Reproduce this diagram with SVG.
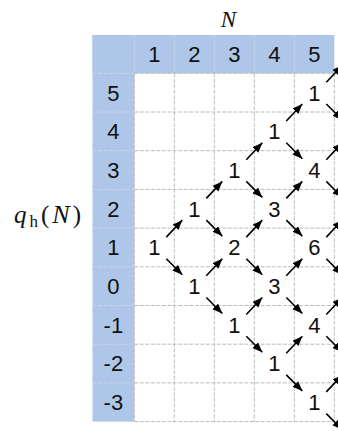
<svg xmlns="http://www.w3.org/2000/svg" width="338" height="431" viewBox="0 0 338 431">
<style>
.hdr{fill:#aec6e7}
.grid{stroke:#bcbcbc;stroke-width:1;stroke-dasharray:4 1.5;fill:none}
.gridb{stroke:#c9d6ea;stroke-width:1;stroke-dasharray:4 1.5;fill:none}
.num{font-family:"Liberation Sans",Arial,sans-serif;font-size:22px;fill:#111;text-anchor:middle}
.math{font-family:"Liberation Serif","Times New Roman",serif;fill:#111}
.arr{stroke:#000;stroke-width:1.6;fill:none;marker-end:url(#ah)}
</style>
<defs>
<marker id="ah" markerUnits="userSpaceOnUse" markerWidth="11" markerHeight="9" refX="10" refY="4" orient="auto">
<path d="M0,0 L10,4 L0,8 Z" fill="#000"/>
</marker>
</defs>
<rect width="338" height="431" fill="#fff"/>
<!-- header backgrounds -->
<rect class="hdr" x="92.5" y="35" width="241.8" height="38.3"/>
<rect class="hdr" x="92.5" y="35" width="41.8" height="386.6"/>
<!-- grid -->
<g id="grid">
<path class="gridb" d="M134.3,35V73.3 M174.3,35V73.3 M214.3,35V73.3 M254.3,35V73.3 M294.3,35V73.3 M92.5,73.3H134.3 M92.5,112H134.3 M92.5,150.7H134.3 M92.5,189.4H134.3 M92.5,228.1H134.3 M92.5,266.8H134.3 M92.5,305.5H134.3 M92.5,344.2H134.3 M92.5,382.9H134.3"/>
<path class="grid" d="M134.3,73.3H334.3 M134.3,112H334.3 M134.3,150.7H334.3 M134.3,189.4H334.3 M134.3,228.1H334.3 M134.3,266.8H334.3 M134.3,305.5H334.3 M134.3,344.2H334.3 M134.3,382.9H334.3 M134.3,421.6H334.3 M174.3,73.3V421.6 M214.3,73.3V421.6 M254.3,73.3V421.6 M294.3,73.3V421.6 M334.3,73.3V421.6 M134.3,73.3V421.6"/>
</g>
<!-- axis labels -->
<text id="labelN" class="math" x="228.5" y="27" font-size="23" font-style="italic" text-anchor="middle">N</text>
<text id="labelQ" class="math" x="14" y="223" font-size="25" textLength="67" lengthAdjust="spacing"><tspan font-style="italic">q</tspan><tspan font-size="17" dy="4">h</tspan><tspan dy="-4">(</tspan><tspan font-style="italic" font-size="26">N</tspan><tspan>)</tspan></text>
<!-- column headers -->
<g id="colheaders">
<text class="num" x="154.3" y="62">1</text>
<text class="num" x="194.3" y="62">2</text>
<text class="num" x="234.3" y="62">3</text>
<text class="num" x="274.3" y="62">4</text>
<text class="num" x="314.3" y="62">5</text>
</g>
<!-- row headers -->
<g id="rowheaders">
<text class="num" x="113.4" y="100.5">5</text>
<text class="num" x="113.4" y="139.2">4</text>
<text class="num" x="113.4" y="177.9">3</text>
<text class="num" x="113.4" y="216.6">2</text>
<text class="num" x="113.4" y="255.3">1</text>
<text class="num" x="113.4" y="294">0</text>
<text class="num" x="113.4" y="332.7">-1</text>
<text class="num" x="113.4" y="371.4">-2</text>
<text class="num" x="113.4" y="410.1">-3</text>
</g>
<!-- nodes -->
<g id="n1_1"><text class="num" x="154.3" y="255.3">1</text></g>
<g id="n2_2"><text class="num" x="194.3" y="216.6">1</text></g>
<g id="n2_0"><text class="num" x="194.3" y="294">1</text></g>
<g id="n3_3"><text class="num" x="234.3" y="177.9">1</text></g>
<g id="n3_1"><text class="num" x="234.3" y="255.3">2</text></g>
<g id="n3_m1"><text class="num" x="234.3" y="332.7">1</text></g>
<g id="n4_4"><text class="num" x="274.3" y="139.2">1</text></g>
<g id="n4_2"><text class="num" x="274.3" y="216.6">3</text></g>
<g id="n4_0"><text class="num" x="274.3" y="294">3</text></g>
<g id="n4_m2"><text class="num" x="274.3" y="371.4">1</text></g>
<g id="n5_5"><text class="num" x="314.3" y="100.5">1</text></g>
<g id="n5_3"><text class="num" x="314.3" y="177.9">4</text></g>
<g id="n5_1"><text class="num" x="314.3" y="255.3">6</text></g>
<g id="n5_m1"><text class="num" x="314.3" y="332.7">4</text></g>
<g id="n5_m3"><text class="num" x="314.3" y="410.1">1</text></g>
<!-- connectors -->
<g id="connectors">
<path class="arr" d="M166.3,237.1L182.3,220.1"/>
<path class="arr" d="M166.3,258.8L182.3,274.8"/>
<path class="arr" d="M206.3,198.4L222.3,181.4"/>
<path class="arr" d="M206.3,220.1L222.3,236.1"/>
<path class="arr" d="M206.3,275.8L222.3,258.8"/>
<path class="arr" d="M206.3,297.5L222.3,313.5"/>
<path class="arr" d="M246.3,159.7L262.3,142.7"/>
<path class="arr" d="M246.3,181.4L262.3,197.4"/>
<path class="arr" d="M246.3,237.1L262.3,220.1"/>
<path class="arr" d="M246.3,258.8L262.3,274.8"/>
<path class="arr" d="M246.3,314.5L262.3,297.5"/>
<path class="arr" d="M246.3,336.2L262.3,352.2"/>
<path class="arr" d="M286.3,121L302.3,104"/>
<path class="arr" d="M286.3,142.7L302.3,158.7"/>
<path class="arr" d="M286.3,198.4L302.3,181.4"/>
<path class="arr" d="M286.3,220.1L302.3,236.1"/>
<path class="arr" d="M286.3,275.8L302.3,258.8"/>
<path class="arr" d="M286.3,297.5L302.3,313.5"/>
<path class="arr" d="M286.3,353.2L302.3,336.2"/>
<path class="arr" d="M286.3,374.9L302.3,390.9"/>
<path class="arr" d="M326.3,82.3L342.3,65.3"/>
<path class="arr" d="M326.3,104L342.3,120"/>
<path class="arr" d="M326.3,159.7L342.3,142.7"/>
<path class="arr" d="M326.3,181.4L342.3,197.4"/>
<path class="arr" d="M326.3,237.1L342.3,220.1"/>
<path class="arr" d="M326.3,258.8L342.3,274.8"/>
<path class="arr" d="M326.3,314.5L342.3,297.5"/>
<path class="arr" d="M326.3,336.2L342.3,352.2"/>
<path class="arr" d="M326.3,391.9L342.3,374.9"/>
<path class="arr" d="M326.3,413.6L342.3,429.6"/>
</g>
</svg>
